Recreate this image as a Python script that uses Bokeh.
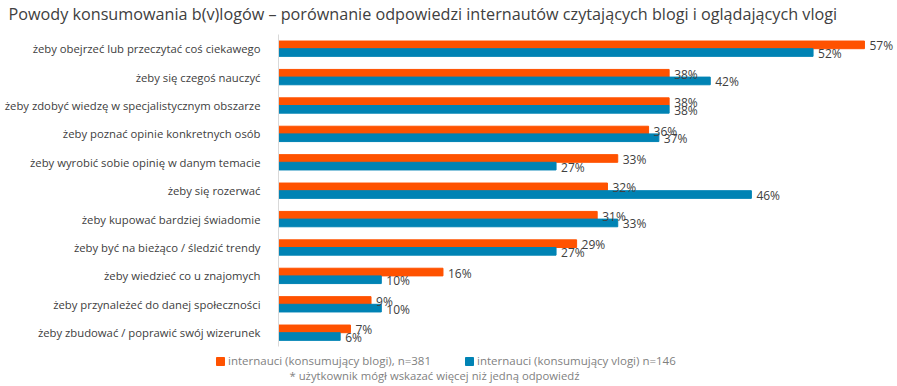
from bokeh.plotting import figure
from bokeh.models import ColumnDataSource, Range1d, FixedTicker, LabelSet, Label, Legend, LegendItem, LinearAxis
from bokeh.core.properties import value
from bokeh.embed import file_html
from bokeh.resources import INLINE

categories = [
    "żeby obejrzeć lub przeczytać coś ciekawego",
    "żeby się czegoś nauczyć",
    "żeby zdobyć wiedzę w specjalistycznym obszarze",
    "żeby poznać opinie konkretnych osób",
    "żeby wyrobić sobie opinię w danym temacie",
    "żeby się rozerwać",
    "żeby kupować bardziej świadomie",
    "żeby być na bieżąco / śledzić trendy",
    "żeby wiedzieć co u znajomych",
    "żeby przynależeć do danej społeczności",
    "żeby zbudować / poprawić swój wizerunek",
]
blogi = [57, 38, 38, 36, 33, 32, 31, 29, 16, 9, 7]
vlogi = [52, 42, 38, 37, 27, 46, 33, 27, 10, 10, 6]
series_names = ["internauci (konsumujący blogi), n=381", "internauci (konsumujący vlogi) n=146"]
title_text = "Powody konsumowania b(v)logów – porównanie odpowiedzi internautów czytających blogi i oglądających vlogi"
footnote = "* użytkownik mógł wskazać więcej niż jedną odpowiedź"

ORANGE = "#FF5200"
BLUE = "#0083B4"
FONT = "Open Sans"
W, H = 897, 386
TOP = 34            # px from figure top to the first category row
ROW = 28.4          # px per category row
X0 = 278            # px from figure left to value 0
PX_PER = 10.28      # px per percent

n = len(categories)
ypos = [n - 1 - i for i in range(n)]   # top category highest
off = 0.135

src = ColumnDataSource(dict(
    ypos=ypos,
    yb=[y + off for y in ypos],
    yv=[y - off for y in ypos],
    blogi=blogi,
    vlogi=vlogi,
    blogi_lbl=[f"{v}%" for v in blogi],
    vlogi_lbl=[f"{v}%" for v in vlogi],
))

top_px = TOP + ROW / 2
bot_px = H - (TOP + ROW * n) + ROW / 2
p = figure(
    width=W, height=H,
    x_range=Range1d(-X0 / PX_PER, (W - X0) / PX_PER),
    y_range=Range1d(0 - bot_px / ROW, (n - 1) + top_px / ROW),
    output_backend="svg", toolbar_location=None,
    min_border=0, min_border_left=0, min_border_right=0, min_border_top=0, min_border_bottom=0,
    x_axis_location=None, y_axis_location=None,
)
p.outline_line_color = None
p.xgrid.visible = False
p.ygrid.visible = False

ax = LinearAxis(fixed_location=0, ticker=FixedTicker(ticks=ypos),
                major_label_overrides={y: c for y, c in zip(ypos, categories)},
                bounds=(-0.5, n - 0.5))
ax.axis_line_color = "#D9D9D9"
ax.axis_line_width = 1
ax.major_tick_line_color = None
ax.minor_tick_line_color = None
ax.major_label_standoff = 12
ax.major_label_text_font = FONT
ax.major_label_text_font_size = "11.3px"
ax.major_label_text_color = "#404040"
p.add_layout(ax, "left")

r1 = p.hbar(y="yb", right="blogi", left=0, height=0.27, color=ORANGE, source=src)
r2 = p.hbar(y="yv", right="vlogi", left=0, height=0.27, color=BLUE, source=src)

for col, ycol in (("blogi", "yb"), ("vlogi", "yv")):
    p.add_layout(LabelSet(x=col, y=ycol, text=col + "_lbl",
                          x_offset=5, y_offset=-1, source=src, text_font=value(FONT),
                          text_font_size="12px", text_color="#404040", text_baseline="middle"))

p.add_layout(Label(x=8, y=H - 13, x_units="screen", y_units="screen", text=title_text,
                   text_font=FONT, text_font_size="16.2px", text_color="#404040",
                   text_baseline="middle"))

legend = Legend(items=[LegendItem(label=series_names[0], renderers=[r1]),
                       LegendItem(label=series_names[1], renderers=[r2])],
                orientation="horizontal", location=(215, 18),
                glyph_width=10, glyph_height=10, label_text_font=FONT,
                label_text_font_size="11.5px", label_text_color="#7F7F7F",
                spacing=33, padding=0, margin=0, label_standoff=3,
                label_height=10,
                border_line_color=None, background_fill_alpha=0)
p.add_layout(legend, "center")

p.add_layout(Label(x=434, y=11, x_units="screen", y_units="screen", text=footnote,
                   text_font=FONT, text_font_size="11.3px", text_color="#7F7F7F",
                   text_baseline="middle", text_align="center"))

open("out.html", "w").write(file_html(p, INLINE))
